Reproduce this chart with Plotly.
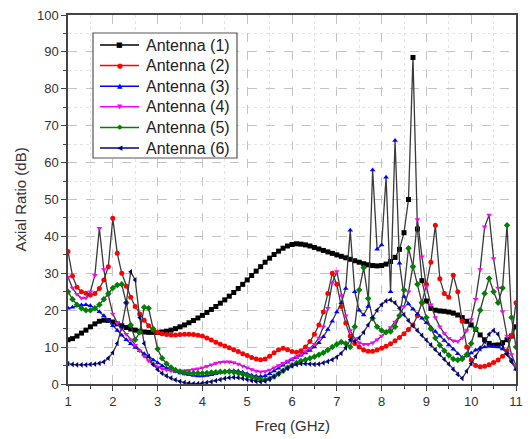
import plotly.graph_objects as go

freq = [round(1 + 0.1 * i, 1) for i in range(101)]

ant1 = [12, 12.3, 13, 13.8, 14.6, 15.5, 16.3, 17, 17.3, 17.2,
        16.8, 16.3, 15.8, 15.3, 14.9, 14.6, 14.3, 14.1, 14.0, 14.0,
        14.0, 14.1, 14.3, 14.6, 15.0, 15.5, 16.0, 16.6, 17.2, 17.9,
        18.6, 19.4, 20.2, 21.0, 21.9, 22.8, 23.8, 24.8, 25.9, 27.0,
        28.2, 29.4, 30.6, 31.8, 33.0, 34.1, 35.1, 36.0, 36.8, 37.4,
        37.8, 38.0, 37.9, 37.7, 37.4, 37.0, 36.6, 36.2, 35.8, 35.4,
        35.0, 34.6, 34.2, 33.8, 33.4, 33.0, 32.6, 32.3, 32.1, 32.0,
        32.1, 32.5, 33.2, 34.3, 36.5, 41, 50, 88.5, 42, 28,
        22.5, 20.5, 20, 19.8, 19.7, 19.5, 19.2, 18.7, 18, 17,
        16, 14.8, 13.3, 12, 11, 10.5, 10.6, 11.2, 12, 13, 15.5]

ant2 = [35.9, 29.3, 26.2, 25, 24.6, 24.1, 24.5, 25.9, 28.2, 31.8,
        44.9, 35.4, 30, 26.5, 23.5, 21, 19, 17.3, 15.8, 14.7,
        14.0, 13.6, 13.4, 13.3, 13.3, 13.4, 13.5, 13.5, 13.4, 13.2,
        13.0, 12.5, 11.9, 11.3, 10.8, 10.3, 9.8, 9.3, 8.8, 8.2,
        7.7, 7.2, 6.8, 6.6, 6.8, 7.5, 8.5, 9.3, 9.7, 9.3,
        8.8, 8.6, 9.0, 10, 11.5, 13.5, 16, 19.5, 24.5, 30,
        27, 21, 16.5, 13, 11, 10, 9.2, 8.9, 8.9, 9.2,
        9.7, 10.2, 10.9, 11.7, 12.6, 13.6, 14.8, 16, 18.5, 22,
        27, 33, 43, 28.5, 24.5, 23.5, 29.5, 25, 17, 10,
        6.5, 5, 4.7, 4.8, 5.2, 5.8, 6.5, 7.5, 9, 13, 22]

ant3 = [20.5, 20.8, 21.2, 21.4, 21.5, 21.2, 20.5, 19.6, 18.5, 17.2,
        15.8, 14.5, 13.2, 12, 10.9, 9.9, 9, 8.2, 7.4, 6.5,
        5.7, 4.9, 4.3, 3.8, 3.4, 3.0, 2.7, 2.5, 2.3, 2.2,
        2.2, 2.3, 2.5, 2.8, 3.1, 3.4, 3.6, 3.6, 3.5, 3.2,
        2.8, 2.4, 2.1, 2.0, 2.2, 2.8, 3.5, 4.3, 5.1, 5.9,
        6.6, 7.2, 7.8, 8.4, 9.1, 10, 11.2, 12.8, 14.8, 17,
        19.5, 22, 25.9, 41.7, 25, 20, 18.7, 21, 58, 36.5,
        37.7, 56, 25, 66, 32.7, 23.7, 21.7, 20.3, 19, 17.8,
        16.6, 15.4, 14.2, 13, 11.8, 10.6, 9.4, 8.2, 7.2, 7.6,
        8.4, 9.2, 9.8, 10, 10.2, 10.2, 10, 9.5, 8.5, 6.5, 4]

ant4 = [29, 26, 24.3, 23.3, 23.3, 25, 29.5, 42.2, 31, 24,
        19, 16.5, 15, 13.5, 12, 10.5, 9, 7.5, 6.3, 5.3,
        4.6, 4.1, 3.8, 3.6, 3.5, 3.5, 3.6, 3.7, 3.9, 4.1,
        4.4, 4.8, 5.2, 5.6, 5.9, 6.0, 6.0, 5.8, 5.4, 4.9,
        4.4, 3.9, 3.5, 3.3, 3.4, 3.8, 4.4, 5.0, 5.6, 6.2,
        6.8, 7.4, 8.0, 8.8, 9.7, 10.8, 12.5, 15.5, 20.5, 27.5,
        30.5, 24, 18.5, 14.5, 12.3, 11.2, 10.8, 10.8, 11.2, 12,
        13, 14, 15.3, 16.8, 18.5, 21, 25, 32, 44.6, 34.5,
        26.4, 21.5, 18, 15.5, 13.7, 12.4, 11.7, 11.5, 12.5, 14.5,
        17.5, 23, 31, 42.6, 45.8, 34, 26, 19.6, 13, 8, 5]

ant5 = [25, 23, 21.5, 20.5, 20, 20, 20.5, 21.5, 23, 24.5,
        26, 26.8, 27, 22, 16, 12, 14, 20.8, 20.5, 15,
        9.5, 7, 5.5, 4.5, 3.8, 3.4, 3.1, 3.0, 2.9, 2.9,
        2.9, 3.0, 3.1, 3.2, 3.3, 3.3, 3.3, 3.2, 3.0, 2.7,
        2.3, 1.9, 1.5, 1.2, 1.1, 1.4, 2.0, 2.8, 3.6, 4.4,
        5.1, 5.7, 6.2, 6.6, 7.0, 7.4, 7.9, 8.5, 9.2, 10,
        10.8, 11.4, 11, 10, 15.5, 25.5, 31.5, 23.2, 17.8, 15.5,
        14.5, 14, 14.2, 15.5, 18.5, 25.5, 36.8, 31.8, 27, 22,
        18, 15, 12.5, 10.5, 9, 7.8, 6.8, 6.5, 6.8, 8,
        11, 15, 20, 24.5, 28.6, 25, 22, 26, 43, 18, 10]

ant6 = [5.5, 5.3, 5.2, 5.2, 5.2, 5.3, 5.4, 5.6, 6.0, 7.0,
        8.5, 11, 15.5, 22, 30.4, 28.2, 18, 11, 7.5, 5.3,
        3.9, 2.9, 2.2, 1.6, 1.1, 0.7, 0.4, 0.2, 0.1, 0.1,
        0.2, 0.4, 0.6, 0.9, 1.2, 1.5, 1.7, 1.8, 1.7, 1.5,
        1.2, 0.9, 0.7, 0.6, 0.8, 1.3, 2.0, 2.8, 3.6, 4.3,
        4.9, 5.3, 5.5, 5.5, 5.4, 5.3, 5.4, 5.7, 6.1, 6.6,
        7.3, 8.3, 9.8, 12, 11.5, 12.5, 14, 16, 18, 20,
        21.5, 22.5, 22.8, 22, 20.5, 18.8, 17.2, 15.8, 14.5, 13.2,
        11.9, 10.6, 9.3, 8, 6.7, 5.4, 4, 2.6, 1.5, 3.5,
        5.5, 7.5, 9.5, 11.5, 13.5, 14.5, 13.5, 10.5, 8, 6, 4]

names = ["Antenna (1)", "Antenna (2)", "Antenna (3)", "Antenna (4)",
         "Antenna (5)", "Antenna (6)"]
series = [ant1, ant2, ant3, ant4, ant5, ant6]
colors = ["#000000", "#ff0000", "#0000ff", "#ff00ff", "#008000", "#000080"]
symbols = ["square", "circle", "triangle-up", "triangle-down", "diamond",
           "triangle-left"]
glyphs = ["\u25A0", "\u25CF", "\u25B2", "\u25BC", "\u25C6", "\u25C0"]

W, H = 530, 439
ML, MR, MT, MB = 68, 14, 15, 55
PW, PH = W - ML - MR, H - MT - MB


def px_x(p):
    return (p - ML) / PW


def px_y(p):
    return (H - MB - p) / PH


fig = go.Figure()
for name, ys, col, sym in zip(names, series, colors, symbols):
    fig.add_trace(go.Scatter(
        x=freq, y=ys, mode="lines+markers", name=name, showlegend=False,
        line=dict(color="#3a3a3a", width=1.3),
        marker=dict(color=col, symbol=sym, size=5, line=dict(width=0))))

# manual legend (box, colored line samples, marker glyphs, labels)
shapes = [dict(type="rect", xref="paper", yref="paper",
               x0=px_x(93), x1=px_x(237), y0=px_y(158), y1=px_y(33),
               fillcolor="white", line=dict(color="#555555", width=1.2),
               layer="above")]
annotations = []
for i, (name, col, g) in enumerate(zip(names, colors, glyphs)):
    yc = px_y(45 + 20.6 * i)
    shapes.append(dict(type="line", xref="paper", yref="paper",
                       x0=px_x(100), x1=px_x(139), y0=yc, y1=yc,
                       line=dict(color=col, width=1.5), layer="above"))
    annotations.append(dict(xref="paper", yref="paper", x=px_x(119.5), y=yc,
                            text=g, showarrow=False, xanchor="center",
                            yanchor="middle",
                            font=dict(family="DejaVu Sans", size=7,
                                      color=col)))
    annotations.append(dict(xref="paper", yref="paper", x=px_x(144), y=yc,
                            text=name, showarrow=False, xanchor="left",
                            yanchor="middle",
                            font=dict(family="Arial, Liberation Sans",
                                      size=16, color="#222222")))

annotations.append(dict(xref="paper", yref="paper", x=0, xshift=-48, y=0.5,
                        text="Axial Ratio (dB)", textangle=-90,
                        showarrow=False, xanchor="center", yanchor="middle",
                        font=dict(family="Arial, Liberation Sans", size=15,
                                  color="#333333")))
annotations.append(dict(xref="paper", yref="paper", x=0.5, y=0, yshift=-41,
                        text="Freq (GHz)", showarrow=False, xanchor="center",
                        yanchor="middle",
                        font=dict(family="Arial, Liberation Sans", size=15,
                                  color="#333333")))

axis_common = dict(
    showline=True, linecolor="#444444", linewidth=1.5, mirror=True,
    ticks="outside", ticklen=5, tickcolor="#444444", tickwidth=1.2,
    showgrid=True, gridcolor="#c4c4c4", griddash="dash", gridwidth=1,
    zeroline=False, automargin=False,
    tickfont=dict(family="Arial, Liberation Sans", size=13, color="#333333"),
)

fig.update_xaxes(
    range=[1, 11], dtick=1, tick0=1,
    minor=dict(dtick=0.5, ticks="outside", ticklen=3, tickcolor="#444444",
               showgrid=True, gridcolor="#e4e4e4", griddash="dot"),
    **axis_common)
fig.update_yaxes(
    range=[0, 100], dtick=10,
    minor=dict(dtick=5, ticks="outside", ticklen=3, tickcolor="#444444",
               showgrid=True, gridcolor="#e4e4e4", griddash="dot"),
    **axis_common)

fig.update_layout(
    width=W, height=H,
    margin=dict(l=ML, r=MR, t=MT, b=MB),
    paper_bgcolor="white", plot_bgcolor="white",
    showlegend=False,
    shapes=shapes, annotations=annotations,
)

fig.write_html("out.html",
               config={"displayModeBar": False},
               post_script="document.body.style.margin='0';"
                           "document.body.style.overflow='hidden';")
